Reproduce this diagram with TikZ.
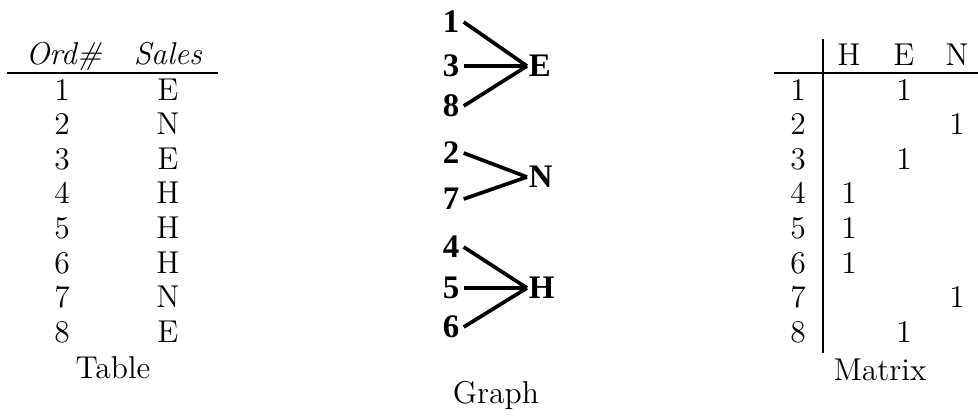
\documentclass[tikz,border=0pt]{standalone}
\usepackage{fontspec}
\usetikzlibrary{positioning}
\newfontfamily\graphfont{Liberation Serif}

\begin{document}
\begin{tikzpicture}[
    x=0.38pt, y=-0.38pt,
    every node/.style={font=\fontsize{12}{14.5}\selectfont,inner sep=0pt},
    cell/.style={anchor=base},
    vert/.style={font=\graphfont\bfseries\fontsize{12.5}{15}\selectfont,inner sep=1.5pt},
    cls/.style={vert,anchor=west,inner sep=0.5pt},
    edge/.style={line width=1.4pt},
    rule/.style={line width=1pt}
  ]
    \useasboundingbox (0,0) rectangle (978,419);

    % table
    \node[cell] (hOrd) at (64,64) {\textit{Ord\#}};
    \node[cell] (hSales) at (168,64) {\textit{Sales}};
    \draw[rule] (7,73) -- (218,73);
    \foreach \s [count=\i] in {E,N,E,H,H,H,N,E} {
      \node[cell] (ord\i) at (62,{100+34.6*(\i-1)}) {\i};
      \node[cell] (sale\i) at (168,{100+34.6*(\i-1)}) {\s};
    }
    \node[cell] (tabTitle) at (113,378) {Table};

    % graph
    \foreach \n/\y in {1/22,3/66,8/106,2/153,7/199,4/247,5/288,6/327}
      \node[vert] (g\n) at (451,\y) {\n};
    \node[cls] (gE) at (527,66) {E};
    \node[cls] (gN) at (527,177) {N};
    \node[cls] (gH) at (527,288) {H};
    \foreach \n in {1,3,8} \draw[edge] (g\n.east) -- (gE.west);
    \foreach \n in {2,7} \draw[edge] (g\n.east) -- (gN.west);
    \foreach \n in {4,5,6} \draw[edge] (g\n.east) -- (gH.west);
    \node[cell] (graphTitle) at (496,403) {Graph};

    % matrix
    \draw[rule] (823,39) -- (823,353);
    \draw[rule] (774,73) -- (978,73);
    \node[cell] (colH) at (849,65) {H};
    \node[cell] (colE) at (904,65) {E};
    \node[cell] (colN) at (957,65) {N};
    \foreach \c [count=\i] in {904,957,904,849,849,849,957,904} {
      \node[cell] (mrow\i) at (798,{100+34.6*(\i-1)}) {\i};
      \node[cell] (mone\i) at (\c,{100+34.6*(\i-1)}) {1};
    }
    \node[cell] (matTitle) at (880,380) {Matrix};
  \end{tikzpicture}
\end{document}
